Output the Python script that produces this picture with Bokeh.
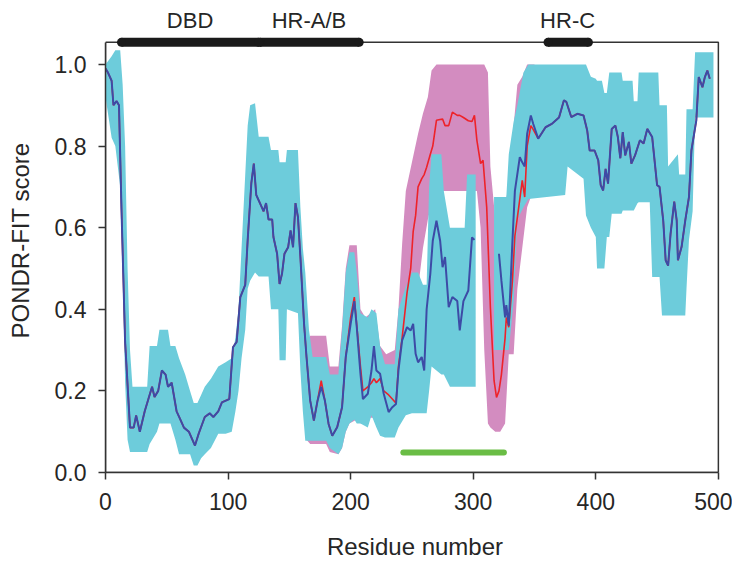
import math
from bokeh.plotting import figure
from bokeh.models import FixedTicker, Range1d, BoxAnnotation
from bokeh.embed import file_html
from bokeh.resources import INLINE
from bokeh.core.properties import value

nan = float("nan")

# ---- data ----
residue = [0, 2, 5, 6.5, 9, 11, 13, 16, 20, 23, 25, 28, 32, 35, 38, 40, 43, 46, 49, 51,
           54, 58, 61, 64, 68, 73, 76, 81, 85, 88, 92, 95, 101, 104, 107, 110, 114, 116, 119, 121,
           123, 126, 129, 131, 133, 136, 137, 140, 142, 144, 146, 149, 151, 153, 155, 157, 159, 162, 164, 167,
           170, 173, 176, 179, 182, 185, 189, 193, 196, 200, 203, 205, 208, 210, 214, 217, 219, 221, 224, 227,
           231, 234, 237, 239, 242, 246, 249, 251, 253, 255, 258, 260, 262, 265, 267, 270, 273, 275, 277, 280,
           283, 287, 289, 292, 296, 299, 301, 303, 306, 308, 311, 314, 317, 319, 321, 323, 326, 327, 329, 332,
           334, 338, 340, 342, 344, 347, 349, 353, 359, 364, 370, 374, 376, 380, 385, 390, 393, 395, 399, 402,
           404, 406, 408, 410, 413, 416, 418, 420, 422, 424, 427, 429, 432, 436, 439, 442, 446, 450, 452, 455,
           457, 459, 461, 464, 466, 467, 470, 473, 476, 478, 482, 484, 487, 489, 491, 493]

fit_blue = [0.99, 0.98, 0.96, 0.90, 0.91, 0.90, 0.65, 0.32, 0.11, 0.11, 0.14, 0.10, 0.15, 0.18, 0.21, 0.185, 0.20, 0.25, 0.24, 0.21,
            0.22, 0.15, 0.13, 0.11, 0.10, 0.066, 0.095, 0.136, 0.145, 0.136, 0.15, 0.172, 0.18, 0.307, 0.32, 0.43, 0.46, 0.57, 0.71, 0.757,
            0.68, 0.66, 0.64, 0.66, 0.62, 0.62, 0.577, 0.536, 0.462, 0.487, 0.536, 0.552, 0.593, 0.552, 0.66, 0.626, 0.528, 0.364, 0.283, 0.176,
            0.127, 0.176, 0.21, 0.176, 0.119, 0.09, 0.111, 0.16, 0.283, 0.364, 0.42, 0.356, 0.242, 0.18, 0.193, 0.25, 0.31, 0.25, 0.242, 0.193,
            0.148, 0.16, 0.168, 0.25, 0.324, 0.356, 0.348, 0.364, 0.291, 0.27, 0.283, 0.25, 0.40, 0.487, 0.568, 0.617, 0.568, 0.503, 0.528, 0.405,
            0.43, 0.42, 0.348, 0.42, 0.446, 0.576, 0.57, nan, nan, nan, nan, nan, nan, nan, 0.536, 0.47, 0.38, 0.41, 0.36, 0.568,
            0.69, 0.773, 0.76, 0.75, 0.83, 0.875, 0.854, 0.818, 0.846, 0.854, 0.87, 0.912, 0.908, 0.871, 0.879, 0.875, 0.838, 0.789, 0.789, 0.765,
            0.704, 0.691, 0.744, 0.708, 0.842, 0.85, 0.822, 0.77, 0.834, 0.777, 0.81, 0.757, 0.777, 0.814, 0.806, 0.842, 0.822, 0.704, 0.70, 0.618,
            0.52, 0.507, 0.585, 0.664, 0.618, 0.52, 0.553, 0.618, 0.675, 0.789, 0.863, 0.969, 0.944, 0.969, 0.985, 0.965]

fit_red = [0.99, 0.98, 0.96, 0.90, 0.91, 0.90, 0.65, 0.32, 0.11, 0.11, 0.14, 0.10, 0.15, 0.18, 0.21, 0.185, 0.20, 0.25, 0.24, 0.21,
           0.22, 0.15, 0.13, 0.11, 0.10, 0.066, 0.095, 0.136, 0.145, 0.136, 0.15, 0.172, 0.18, 0.307, 0.32, 0.43, 0.46, 0.57, 0.71, 0.757,
           0.68, 0.66, 0.64, 0.66, 0.62, 0.62, 0.577, 0.536, 0.462, 0.487, 0.536, 0.552, 0.593, 0.552, 0.66, 0.626, 0.528, 0.364, 0.283, 0.176,
           0.127, 0.176, 0.225, 0.176, 0.119, 0.09, 0.111, 0.16, 0.283, 0.38, 0.43, 0.36, 0.26, 0.20, 0.21, 0.22, 0.23, 0.22, 0.23, 0.20,
           0.19, 0.18, 0.17, 0.26, 0.33, 0.44, 0.50, 0.59, 0.63, 0.70, 0.72, 0.73, 0.748, 0.78, 0.80, 0.863, 0.865, 0.866, 0.85, 0.85,
           0.883, 0.875, 0.875, 0.87, 0.862, 0.86, 0.875, 0.814, 0.757, 0.765, 0.65, 0.405, 0.225, 0.184, 0.20, 0.24, 0.33, 0.38, 0.356, 0.47,
           0.58, 0.67, 0.716, 0.675, 0.80, 0.85, 0.84, 0.818, 0.846, 0.854, 0.87, 0.912, 0.908, 0.871, 0.879, 0.875, 0.838, 0.789, 0.789, 0.765,
           0.704, 0.691, 0.744, 0.708, 0.842, 0.85, 0.822, 0.77, 0.834, 0.777, 0.81, 0.757, 0.777, 0.814, 0.806, 0.842, 0.822, 0.704, 0.70, 0.618,
           0.52, 0.507, 0.585, 0.664, 0.618, 0.52, 0.553, 0.618, 0.675, 0.789, 0.863, 0.969, 0.944, 0.969, 0.985, 0.965]

cyan_res = [0, 5, 8, 12, 14, 16, 18, 20, 22, 34,
            36, 42, 44, 51, 53, 57, 60, 65, 69, 72,
            75, 78, 81, 86, 92, 98, 103, 106, 108.5, 111,
            114, 116, 118, 122, 125, 133, 135, 141, 142, 147,
            148, 157, 159, 161, 163, 166, 169, 180, 183, 190,
            193, 196, 199, 203, 205, 208, 214, 217, 221, 224,
            228, 236, 239, 245, 250, 255, 259, 262, 264, 266,
            274, 276, 281, 293, 295, 302, 303, 316, 317, 327,
            329, 333, 336, 341, 345, 375, 377, 390, 392, 396,
            400, 401, 405, 407, 409, 411, 413, 421, 422, 430,
            431, 434, 435, 444, 446, 451, 452, 454, 458, 459,
            467, 468, 473, 474, 476, 479, 481, 496]
cyan_hi = [1.0, 1.02, 1.035, 1.035, 0.95, 0.80, 0.50, 0.30, 0.21, 0.21,
           0.31, 0.31, 0.35, 0.35, 0.31, 0.31, 0.28, 0.24, 0.20, 0.17,
           0.17, 0.19, 0.21, 0.23, 0.26, 0.27, 0.28, 0.33, 0.40, 0.55,
           0.73, 0.85, 0.90, 0.905, 0.823, 0.823, 0.79, 0.79, 0.76, 0.76,
           0.79, 0.79, 0.65, 0.55, 0.49, 0.35, 0.283, 0.283, 0.24, 0.24,
           0.35, 0.49, 0.54, 0.54, 0.49, 0.39, 0.38, 0.40, 0.39, 0.31,
           0.265, 0.265, 0.40, 0.455, 0.49, 0.49, 0.46, 0.46, 0.70, 0.78,
           0.78, 0.69, 0.60, 0.60, 0.73, 0.73, None, None, 0.675, 0.675,
           0.78, 0.86, 0.90, 0.98, 1.0, 1.0, 1.0, 1.0, 1.0, 0.97,
           0.965, 0.96, 0.96, 0.93, 0.93, 0.98, 0.98, 0.98, 0.96, 0.96,
           0.91, 0.91, 0.98, 0.98, 0.98, 0.98, 0.90, 0.90, 0.90, 0.75,
           0.78, 0.73, 0.73, 0.89, 0.89, 0.89, 1.03, 1.03]
cyan_lo = [0.92, 0.82, 0.80, 0.70, 0.50, 0.22, 0.08, 0.05, 0.05, 0.05,
           0.07, 0.10, 0.12, 0.12, 0.12, 0.08, 0.045, 0.045, 0.045, 0.017,
           0.017, 0.035, 0.045, 0.06, 0.095, 0.095, 0.10, 0.15, 0.20, 0.28,
           0.35, 0.45, 0.47, 0.49, 0.48, 0.48, 0.40, 0.40, 0.275, 0.275,
           0.40, 0.39, 0.25, 0.15, 0.078, 0.078, 0.078, 0.078, 0.06, 0.045,
           0.06, 0.10, 0.12, 0.13, 0.12, 0.12, 0.11, 0.14, 0.11, 0.09,
           0.086, 0.086, 0.11, 0.14, 0.145, 0.145, 0.145, 0.145, 0.20, 0.26,
           0.24, 0.24, 0.21, 0.21, 0.21, 0.21, None, None, 0.30, 0.30,
           0.30, 0.42, 0.62, 0.65, 0.67, 0.68, 0.75, 0.72, 0.63, 0.60,
           0.577, 0.50, 0.50, 0.50, 0.577, 0.577, 0.634, 0.634, 0.642, 0.642,
           0.642, 0.66, 0.662, 0.662, 0.479, 0.479, 0.479, 0.385, 0.385, 0.385,
           0.385, 0.385, 0.385, 0.45, 0.569, 0.64, 0.87, 0.87]

mag_res = [164, 167, 170, 180, 183, 190, 193, 196, 199, 205,
           208, 212, 220, 224, 229, 236, 239, 242, 245, 250,
           255, 259, 263, 266, 270, 303, 306, 309, 312, 314,
           318, 322, 326, 329, 333, 336, 340, 344, 350]
mag_hi = [0.30, 0.335, 0.335, 0.335, 0.26, 0.26, 0.36, 0.50, 0.557, 0.557,
          0.40, 0.38, 0.40, 0.31, 0.29, 0.30, 0.40, 0.56, 0.69, 0.76,
          0.83, 0.88, 0.92, 0.985, 1.0, 1.0, 1.0, 1.0, 0.98, 0.75,
          0.62, 0.62, 0.66, 0.70, 0.85, 0.95, 0.97, 1.0, 1.0]
mag_lo = [0.08, 0.07, 0.07, 0.07, 0.05, 0.045, 0.06, 0.10, 0.12, 0.13,
          0.12, 0.134, 0.134, 0.11, 0.10, 0.10, 0.12, 0.15, 0.20, 0.30,
          0.45, 0.55, 0.62, 0.66, 0.69, 0.69, 0.60, 0.30, 0.12, 0.11,
          0.10, 0.10, 0.12, 0.29, 0.29, 0.45, 0.55, 0.65, 0.70]

domain_names = ["DBD", "HR-A/B", "HR-C"]
domain_start = [13, 126, 361]
domain_end = [125, 207, 394]
domain_label_x = [69, 166, 377]

region_start = [243]
region_end = [325]

x_ticks = [0, 100, 200, 300, 400, 500]
y_ticks = [0.0, 0.2, 0.4, 0.6, 0.8, 1.0]
y_tick_labels = ["0.0", "0.2", "0.4", "0.6", "0.8", "1.0"]

# ---- styling ----
FONT = "Liberation Sans"
TXT = "#262626"
CYAN = "#6DCCDB"
MAGENTA = "#D38CC0"
RED = "#EE2229"
BLUE = "#3D4BA6"
GREEN = "#6ABD45"
FRAME = "#333333"
FRAME_TOP = 1.054


def split_segments(xs, lo, hi):
    segs, cur = [], ([], [], [])
    for x, a, b in zip(xs, lo, hi):
        if a is None or b is None:
            if cur[0]:
                segs.append(cur)
            cur = ([], [], [])
        else:
            cur[0].append(x); cur[1].append(a); cur[2].append(b)
    if cur[0]:
        segs.append(cur)
    return segs


p = figure(frame_width=619, frame_height=464,
           x_range=Range1d(0, 505), y_range=Range1d(0, 1.137),
           output_backend="svg", toolbar_location=None,
           min_border_left=105, min_border_right=8, min_border_top=8, min_border_bottom=86)
p.outline_line_color = None
p.xgrid.visible = False
p.ygrid.visible = False
p.background_fill_color = "white"
p.border_fill_color = "white"

# bands
p.varea(x=mag_res, y1=mag_lo, y2=mag_hi, fill_color=MAGENTA)
for xs, lo, hi in split_segments(cyan_res, cyan_lo, cyan_hi):
    p.varea(x=xs, y1=lo, y2=hi, fill_color=CYAN)

# lines
p.line(residue, fit_red, line_color=RED, line_width=1.6)
p.line(residue, fit_blue, line_color=BLUE, line_width=2)

# green region bar
p.segment(x0=region_start, y0=[0.049], x1=region_end, y1=[0.049],
          line_color=GREEN, line_width=6, line_cap="round")

# frame box around the data area
p.add_layout(BoxAnnotation(left=x_ticks[0], right=x_ticks[-1], bottom=0, top=FRAME_TOP,
                           fill_alpha=0, fill_color=None, line_color=FRAME, line_alpha=1.0,
                           line_width=1.5, level="underlay"))

# domain bars
p.segment(x0=domain_start, y0=[FRAME_TOP] * 3, x1=domain_end, y1=[FRAME_TOP] * 3,
          line_color="#1a1a1a", line_width=9, line_cap="butt")
p.scatter(x=domain_start + domain_end, y=[FRAME_TOP] * 6, marker="circle", size=9,
          fill_color="#1a1a1a", line_color=None)
p.text(x=domain_label_x, y=[1.108] * 3, text=domain_names,
       text_font=value(FONT), text_font_size=value("22px"), text_color=TXT,
       text_align="center", text_baseline="alphabetic")

# axes
for ax in (p.xaxis[0], p.yaxis[0]):
    ax.axis_line_color = FRAME
    ax.axis_line_width = 1.5
    ax.major_tick_line_color = FRAME
    ax.major_tick_line_width = 1.5
    ax.major_tick_out = 7
    ax.major_tick_in = 0
    ax.minor_tick_line_color = None
    ax.major_label_text_font = FONT
    ax.major_label_text_font_size = "23px"
    ax.major_label_text_color = TXT
    ax.axis_label_text_font = FONT
    ax.axis_label_text_font_size = "24px"
    ax.axis_label_text_font_style = "normal"
    ax.axis_label_text_color = TXT

p.xaxis.ticker = FixedTicker(ticks=x_ticks)
p.yaxis.ticker = FixedTicker(ticks=y_ticks)
p.yaxis.major_label_overrides = {t: s for t, s in zip(y_ticks, y_tick_labels)}
p.xaxis.bounds = (x_ticks[0], x_ticks[-1])
p.yaxis.bounds = (0, FRAME_TOP)
p.xaxis.axis_label = "Residue number"
p.yaxis.axis_label = "PONDR-FIT score"
p.xaxis.major_label_standoff = 13
p.yaxis.major_label_standoff = 12
p.xaxis.axis_label_standoff = 20
p.yaxis.axis_label_standoff = 18

open("out.html", "w").write(file_html(p, INLINE))
